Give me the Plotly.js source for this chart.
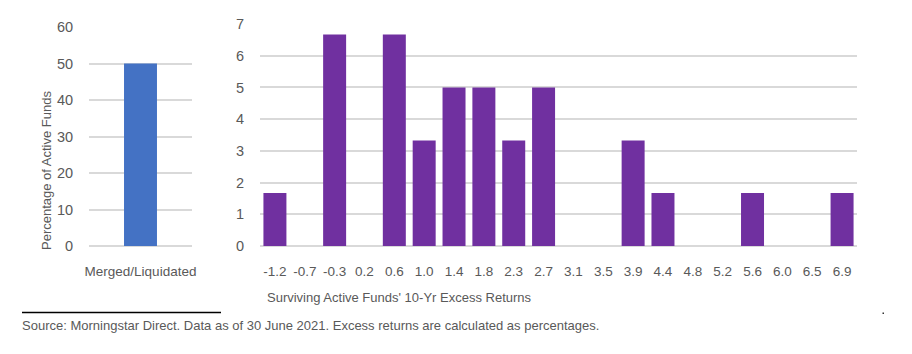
<!DOCTYPE html>
<html>
<head>
<meta charset="utf-8">
<script src="https://cdn.plot.ly/plotly-3.0.1.min.js"></script>
<style>html,body{margin:0;padding:0;background:#fff;}#chart{width:912px;height:354px;}</style>
</head>
<body>
<div id="chart"></div>
<script>
const leftCategories = ["Merged/Liquidated"];
const leftValues = [50];
const returnCategories = ["-1.2","-0.7","-0.3","0.2","0.6","1.0","1.4","1.8","2.3","2.7","3.1","3.5","3.9","4.4","4.8","5.2","5.6","6.0","6.5","6.9"];
const returnValues = [1.67,0,6.67,0,6.67,3.33,5,5,3.33,5,0,0,3.33,1.67,0,0,1.67,0,0,1.67];
const leftTicks = [0,10,20,30,40,50,60];
const rightTicks = [0,1,2,3,4,5,6,7];

const FONT = "'Liberation Sans', Arial, sans-serif";
const TXT = "#595959";
const GRID = "#d9d9d9";

const W = 912, H = 354;
const px = x => x / W;
const py = y => 1 - y / H;

const traces = [
  {type: "bar", x: leftCategories, y: leftValues, xaxis: "x", yaxis: "y",
   marker: {color: "#4472C4"}, width: 0.32, hoverinfo: "x+y"},
  {type: "bar", x: returnCategories, y: returnValues, xaxis: "x2", yaxis: "y2",
   marker: {color: "#7030A0"}, width: 0.77, hoverinfo: "x+y"}
];

const axisFont = {family: FONT, size: 13.5, color: TXT};
const yFont = {family: FONT, size: 14.5, color: TXT};
const layout = {
  width: W, height: H,
  margin: {l: 0, r: 0, t: 0, b: 0},
  paper_bgcolor: "#fff", plot_bgcolor: "#fff",
  showlegend: false,
  font: {family: FONT, color: TXT},
  xaxis: {domain: [px(89), px(192)], type: "category", range: [-0.5, 0.5],
          showgrid: false, showline: false, zeroline: false, fixedrange: true,
          ticks: "outside", ticklen: 13, tickcolor: "rgba(0,0,0,0)", tickfont: axisFont, anchor: "y"},
  yaxis: {domain: [py(246), py(27)], range: [0, 60], tickvals: leftTicks,
          showgrid: true, gridcolor: GRID, gridwidth: 1.5, zeroline: true, zerolinecolor: GRID, zerolinewidth: 1.5,
          showline: false, ticks: "outside", ticklen: 12, tickcolor: "rgba(0,0,0,0)", tickfont: yFont,
          anchor: "x", fixedrange: true},
  xaxis2: {domain: [px(260), px(857)], type: "category", range: [-0.5, 19.5],
          showgrid: false, showline: false, zeroline: false, fixedrange: true,
          ticks: "outside", ticklen: 13, tickcolor: "rgba(0,0,0,0)", tickfont: axisFont, anchor: "y2"},
  yaxis2: {domain: [py(246), py(24)], range: [0, 7], tickvals: rightTicks,
          showgrid: true, gridcolor: GRID, gridwidth: 1.5, zeroline: true, zerolinecolor: GRID, zerolinewidth: 1.5,
          showline: false, ticks: "outside", ticklen: 12, tickcolor: "rgba(0,0,0,0)", tickfont: yFont,
          anchor: "x2", fixedrange: true},
  annotations: [
    {text: "Percentage of Active Funds", textangle: -90, xref: "paper", yref: "paper",
     x: px(46), y: py(171), xanchor: "center", yanchor: "middle", showarrow: false,
     font: {family: FONT, size: 13, color: TXT}},
    {text: "Surviving Active Funds' 10-Yr Excess Returns", xref: "paper", yref: "paper",
     x: px(265), y: py(297), xanchor: "left", yanchor: "middle", showarrow: false,
     font: {family: FONT, size: 13, color: TXT}},
    {text: "Source: Morningstar Direct. Data as of 30 June 2021. Excess returns are calculated as percentages.",
     xref: "paper", yref: "paper", x: px(20), y: py(325), xanchor: "left", yanchor: "middle", showarrow: false,
     font: {family: FONT, size: 13, color: TXT}}
  ],
  shapes: [
    {type: "line", xref: "paper", yref: "paper", x0: px(22), x1: px(221), y0: py(312.5), y1: py(312.5),
     line: {color: "#000", width: 1.5}},
    {type: "rect", xref: "paper", yref: "paper", x0: px(882.5), x1: px(884), y0: py(312.5), y1: py(314),
     line: {width: 0}, fillcolor: "#333"}
  ]
};

Plotly.newPlot("chart", traces, layout, {displayModeBar: false, responsive: false});
</script>
</body>
</html>
